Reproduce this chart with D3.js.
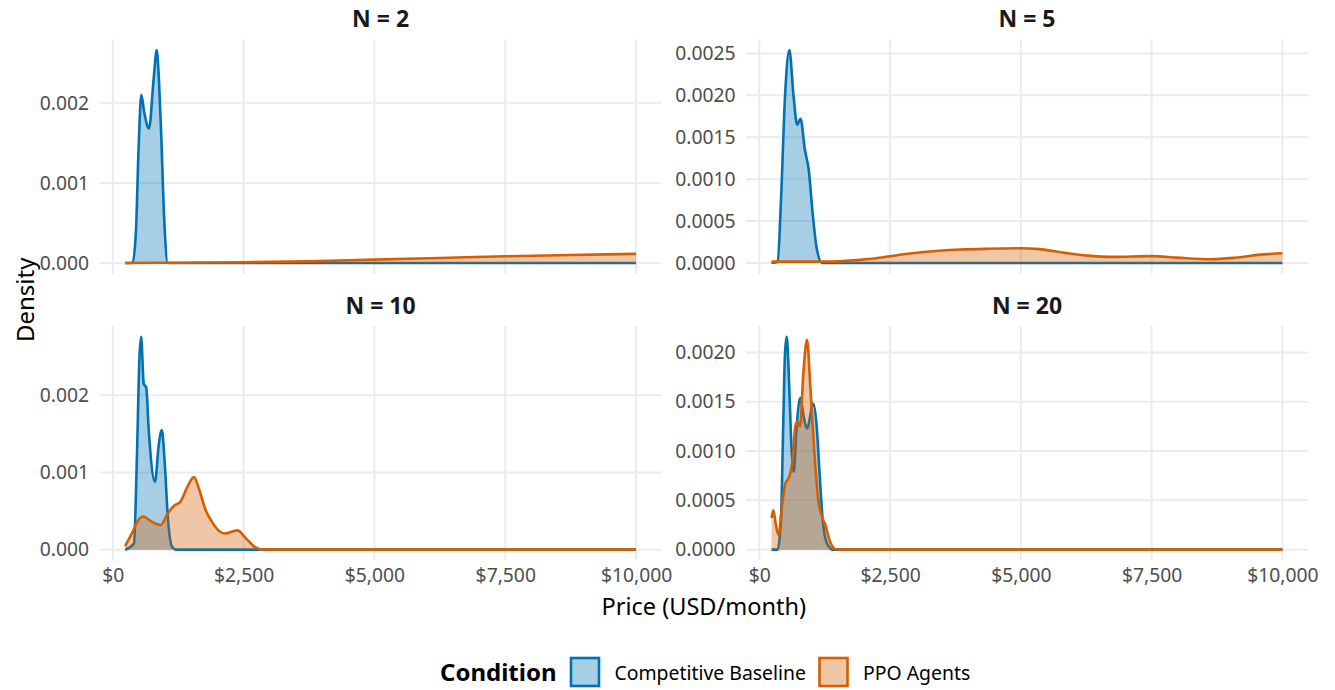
<!DOCTYPE html>
<html>
<head>
<meta charset="utf-8">
<script src="https://cdn.jsdelivr.net/npm/d3@7"></script>
<style>
  html, body { margin: 0; padding: 0; background: #ffffff; }
  svg { display: block; font-family: "Noto Sans", "Open Sans", sans-serif; }
</style>
</head>
<body>
<svg id="chart" width="1335" height="690"></svg>
<script>
// ---------------- DATA ----------------
const panelTitles = ["N = 2", "N = 5", "N = 10", "N = 20"];
const conditions = ["Competitive Baseline", "PPO Agents"];
const xTicks = [0, 2500, 5000, 7500, 10000];
const xTickLabels = ["$0", "$2,500", "$5,000", "$7,500", "$10,000"];
const yTicksN2 = [0, 0.001, 0.002];
const yTicksN5 = [0, 0.0005, 0.001, 0.0015, 0.002, 0.0025];
const yTicksN10 = [0, 0.001, 0.002];
const yTicksN20 = [0, 0.0005, 0.001, 0.0015, 0.002];

// N = 2
const n2BasePrice   = [235, 378, 442, 493, 544, 600, 691, 780, 838, 880, 921, 985, 1049, 1200, 10000];
const n2BaseDensity = [0, 0, 0.00041, 0.00145, 0.0021, 0.00188, 0.00168, 0.0023, 0.00266, 0.0023, 0.00166, 0.0005, 0, 0, 0];
const n2PpoPrice    = [235, 1000, 2500, 3750, 5000, 6250, 7500, 8750, 10000];
const n2PpoDensity  = [0, 0.000002, 0.000008, 0.00002, 0.000042, 0.000062, 0.000083, 0.0001, 0.000113];

// N = 5
const n5BasePrice   = [235, 352, 418, 492, 575, 657, 724, 789, 872, 946, 1021, 1094, 1201, 10000];
const n5BaseDensity = [0, 0.00001, 0.00079, 0.00198, 0.00254, 0.00198, 0.00165, 0.00172, 0.00135, 0.00111, 0.00059, 0.00019, 0, 0];
const n5PpoPrice    = [235, 1210, 1600, 1877, 2200, 2500, 2800, 3100, 3445, 3857, 4352, 5000, 5346, 5840, 6335, 6747, 7500, 7985, 8645, 9139, 9634, 10000];
const n5PpoDensity  = [0.000016, 0.000016, 0.000022, 0.000034, 0.000054, 0.00008, 0.000106, 0.000128, 0.000146, 0.00016, 0.000169, 0.000175, 0.000165, 0.00012, 0.000084, 0.000072, 0.000082, 0.000064, 0.000044, 0.000066, 0.000102, 0.000115];

// N = 10
const n10BasePrice   = [235, 404, 460, 509, 541, 590, 638, 686, 807, 872, 936, 992, 1050, 1130, 1210, 10000];
const n10BaseDensity = [0, 0.00008, 0.0012, 0.0025, 0.00276, 0.00215, 0.0021, 0.00155, 0.00088, 0.00133, 0.00155, 0.00112, 0.00043, 0.00004, 0, 0];
const n10PpoPrice    = [235, 364, 484, 581, 726, 912, 1050, 1170, 1291, 1428, 1549, 1654, 1775, 1896, 2017, 2138, 2380, 2541, 2702, 2863, 10000];
const n10PpoDensity  = [0.000047, 0.00021, 0.00038, 0.00043, 0.00037, 0.00032, 0.00047, 0.00057, 0.00062, 0.00082, 0.00094, 0.00077, 0.00051, 0.00036, 0.00025, 0.00021, 0.00025, 0.00015, 0.00004, 0, 0];

// N = 20
const n20BasePrice   = [235, 351, 415, 460, 492, 524, 562, 607, 658, 715, 785, 849, 913, 1034, 1098, 1149, 1213, 1290, 1405, 10000];
const n20BaseDensity = [0, 0, 0.0003, 0.00131, 0.00199, 0.00216, 0.00182, 0.00115, 0.00079, 0.00125, 0.00154, 0.00135, 0.00123, 0.00148, 0.00125, 0.00081, 0.0003, 0.00007, 0, 0];
const n20PpoPrice    = [235, 268, 319, 370, 434, 498, 575, 638, 690, 728, 779, 843, 913, 977, 1054, 1130, 1201, 1264, 1341, 1437, 1533, 10000];
const n20PpoDensity  = [0.00032, 0.0004, 0.00025, 0.00015, 0.00044, 0.00067, 0.00074, 0.00091, 0.00125, 0.0013, 0.00125, 0.00179, 0.00213, 0.00165, 0.00098, 0.0005, 0.00033, 0.00025, 0.0001, 0.00001, 0, 0];

// ---------------- STYLE / LAYOUT ----------------
const colors = { line: ["#0072B2", "#D55E00"] };
const fillOpacity = 0.35;
const panelW = 562, panelH = 234.2;
const panelX = [99.6, 746, 99.6, 746];
const panelY = [39.4, 39.4, 326.1, 326.1];

const zip = (xs, ys) => xs.map((x, i) => ({ x: x, y: ys[i] }));
const panelData = [
  { base: zip(n2BasePrice, n2BaseDensity), ppo: zip(n2PpoPrice, n2PpoDensity), yTicks: yTicksN2, fmt: ".3f" },
  { base: zip(n5BasePrice, n5BaseDensity), ppo: zip(n5PpoPrice, n5PpoDensity), yTicks: yTicksN5, fmt: ".4f" },
  { base: zip(n10BasePrice, n10BaseDensity), ppo: zip(n10PpoPrice, n10PpoDensity), yTicks: yTicksN10, fmt: ".3f" },
  { base: zip(n20BasePrice, n20BaseDensity), ppo: zip(n20PpoPrice, n20PpoDensity), yTicks: yTicksN20, fmt: ".4f" }
];

const svg = d3.select("#chart");
const gridColor = "#EBEBEB";
const tickColor = "#4D4D4D";
const tickFont = "19.3px";

// global x range (ggplot continuous scale with 5% expansion)
const allX = [].concat(n2BasePrice, n2PpoPrice, n5BasePrice, n5PpoPrice, n10BasePrice, n10PpoPrice, n20BasePrice, n20PpoPrice);
const xMin = d3.min(allX), xMax = d3.max(allX);
const xPad = (xMax - xMin) * 0.05;

panelData.forEach((pd, i) => {
  const g = svg.append("g").attr("transform", `translate(${panelX[i]},${panelY[i]})`);
  const x = d3.scaleLinear().domain([xMin - xPad, xMax + xPad]).range([0, panelW]);
  const yMax = d3.max(pd.base.concat(pd.ppo), d => d.y);
  const y = d3.scaleLinear().domain([-0.05 * yMax, 1.05 * yMax]).range([panelH, 0]);

  // grid
  g.append("g").selectAll("line.h").data(pd.yTicks).join("line")
    .attr("x1", 0).attr("x2", panelW).attr("y1", d => y(d)).attr("y2", d => y(d))
    .attr("stroke", gridColor).attr("stroke-width", 2);
  g.append("g").selectAll("line.v").data(xTicks).join("line")
    .attr("y1", 0).attr("y2", panelH).attr("x1", d => x(d)).attr("x2", d => x(d))
    .attr("stroke", gridColor).attr("stroke-width", 2);

  // y axis labels
  const yAxis = d3.axisLeft(y).tickValues(pd.yTicks).tickFormat(d3.format(pd.fmt)).tickSize(0).tickPadding(10.5);
  const ya = g.append("g").call(yAxis);
  ya.select(".domain").remove();
  ya.selectAll("text").attr("fill", tickColor).style("font-size", tickFont).style("font-family", "'Noto Sans', sans-serif");

  // x axis labels for bottom row
  if (i >= 2) {
    const xAxis = d3.axisBottom(x).tickValues(xTicks).tickFormat((d, k) => xTickLabels[k]).tickSize(0).tickPadding(8);
    const xa = g.append("g").attr("transform", `translate(0,${panelH})`).call(xAxis);
    xa.select(".domain").remove();
    xa.selectAll("text").attr("fill", tickColor).style("font-size", tickFont).style("font-family", "'Noto Sans', sans-serif");
  }

  const area = d3.area().x(d => x(d.x)).y0(y(0)).y1(d => y(d.y)).curve(d3.curveMonotoneX);
  const line = d3.line().x(d => x(d.x)).y(d => y(d.y)).curve(d3.curveMonotoneX);

  [pd.base, pd.ppo].forEach((series, k) => {
    g.append("path").datum(series).attr("d", area)
      .attr("fill", colors.line[k]).attr("fill-opacity", fillOpacity);
    g.append("path").datum(series).attr("d", line)
      .attr("fill", "none").attr("stroke", colors.line[k]).attr("stroke-width", 2.6)
      .attr("stroke-linejoin", "round");
  });

  // strip title
  svg.append("text").attr("x", panelX[i] + panelW / 2).attr("y", panelY[i] - 12)
    .attr("text-anchor", "middle").attr("fill", "#1A1A1A")
    .style("font-size", "23px").style("font-weight", "bold").text(panelTitles[i]);
});

// axis titles
svg.append("text").attr("x", (panelX[0] + panelX[1] + panelW) / 2).attr("y", 614.5)
  .attr("text-anchor", "middle").attr("fill", "#000").style("font-size", "23.5px").text("Price (USD/month)");
svg.append("text").attr("transform", `translate(${34},${(panelY[0] + panelY[2] + panelH) / 2}) rotate(-90)`)
  .attr("text-anchor", "middle").attr("fill", "#000").style("font-size", "24px").text("Density");

// legend
const lg = svg.append("g");
lg.append("text").attr("x", 440).attr("y", 680.5).attr("fill", "#000")
  .style("font-size", "24px").style("font-weight", "bold").text("Condition");
const keyX = [571, 819.5];
const labX = [614.5, 863];
conditions.forEach((c, k) => {
  lg.append("rect").attr("x", keyX[k]).attr("y", 658).attr("width", 28).attr("height", 28)
    .attr("fill", colors.line[k]).attr("fill-opacity", fillOpacity)
    .attr("stroke", colors.line[k]).attr("stroke-width", 2.6);
  lg.append("text").attr("x", labX[k]).attr("y", 679.5).attr("fill", "#000")
    .style("font-size", "19.4px").text(c);
});
</script>
</body>
</html>
